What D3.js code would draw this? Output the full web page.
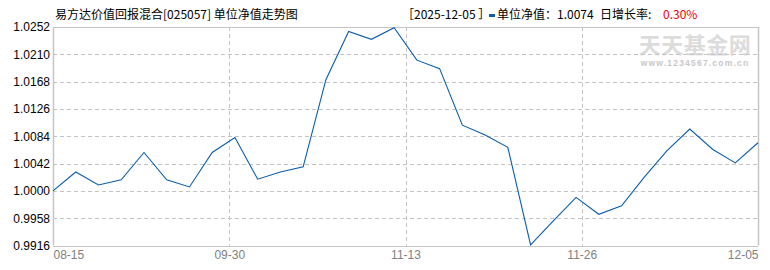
<!DOCTYPE html>
<html><head><meta charset="utf-8">
<script src="https://cdn.jsdelivr.net/npm/d3@7"></script>
<style>
html,body{margin:0;padding:0;background:#fff;}
svg{display:block;}
text{font-family:"Liberation Sans","Noto Sans CJK SC",sans-serif;}
.cjk{font-family:"Noto Sans CJK SC","Liberation Sans",sans-serif;}
</style></head><body>
<svg id="c" width="770" height="270"></svg>
<script>
const navValues = [1.0000,1.0029,1.0009,1.0017,1.0059,1.0017,1.0006,1.0059,1.0082,1.0018,
  1.0029,1.0037,1.0171,1.0245,1.0233,1.0251,1.0201,1.0188,1.0101,1.0086,
  1.0067,0.9917,0.9954,0.9990,0.9964,0.9977,1.0021,1.0062,1.0095,1.0064,
  1.0043,1.0074];
const xTickLabels = ["08-15","09-30","11-13","11-26","12-05"];
const yTickValues = [1.0252,1.0210,1.0168,1.0126,1.0084,1.0042,1.0000,0.9958,0.9916];
const titleText = "易方达价值回报混合[025057] 单位净值走势图";
const legendDate = "［2025-12-05 ］";
const legendNavLabel = "单位净值：";
const legendNav = "1.0074";
const legendRateLabel = "日增长率:";
const legendRate = "0.30%";

const svg = d3.select("#c");
const L = 53, R = 758, T = 27, B = 245.5;
const x = d3.scaleLinear().domain([0, navValues.length - 1]).range([L, R]);
const y = d3.scaleLinear().domain([0.9916, 1.0252]).range([B, T]);
const xt = d3.scaleLinear().domain([0, xTickLabels.length - 1]).range([L, R]);
const gridColor = "#c4c4c4";

// watermark
svg.append("text").attr("class","cjk").attr("x", 695).attr("y", 53)
  .attr("text-anchor","middle").attr("font-size", 22).attr("font-weight","bold")
  .attr("fill","#dcdcdc").attr("letter-spacing", 0.5).text("天天基金网");
svg.append("text").attr("x", 695).attr("y", 66).attr("text-anchor","middle")
  .attr("font-size", 8.5).attr("font-weight","bold").attr("fill","#c8c8c8")
  .attr("letter-spacing", 1.2).text("www.1234567.com.cn");

// horizontal grid
const yAxis = d3.axisLeft(y).tickValues(yTickValues).tickSize(0).tickPadding(3)
  .tickFormat(d3.format(".4f"));
const gy = svg.append("g").attr("transform", `translate(${L},0)`).call(yAxis);
gy.select(".domain").remove();
gy.selectAll("text").attr("fill","#000").attr("font-size", 12)
  .attr("font-family","Liberation Sans, sans-serif");
svg.append("g").selectAll("line").data(yTickValues).join("line")
  .attr("x1", L).attr("x2", R)
  .attr("y1", d => Math.round(y(d)) + 0.5).attr("y2", d => Math.round(y(d)) + 0.5)
  .attr("stroke", gridColor).attr("stroke-width", 1)
  .attr("stroke-dasharray", (d, i) => (i === 0 || i === yTickValues.length - 1) ? null : "4,3");

// vertical grid
svg.append("g").selectAll("line").data(xTickLabels).join("line")
  .attr("x1", (d, i) => Math.round(xt(i)) + 0.5).attr("x2", (d, i) => Math.round(xt(i)) + 0.5)
  .attr("y1", T).attr("y2", B)
  .attr("stroke", gridColor).attr("stroke-width", (d, i) => (i === 0 || i === xTickLabels.length - 1) ? 1.5 : 1)
  .attr("stroke-dasharray", (d, i) => (i === 0 || i === xTickLabels.length - 1) ? null : "4,3");

// x labels
const xAxis = d3.axisBottom(xt).tickValues(d3.range(xTickLabels.length)).tickSize(0).tickPadding(5)
  .tickFormat(i => xTickLabels[i]);
const gx = svg.append("g").attr("transform", `translate(0,${B})`).call(xAxis);
gx.select(".domain").remove();
gx.selectAll("text").attr("fill","#808080").attr("font-size", 12)
  .attr("font-family","Liberation Sans, sans-serif")
  .attr("text-anchor", (d, i) => i === 0 ? "start" : (i === xTickLabels.length - 1 ? "end" : "middle"));

// line
svg.append("path").datum(navValues)
  .attr("d", d3.line().x((d, i) => x(i)).y(d => y(d)))
  .attr("fill","none").attr("stroke","#0b5cad").attr("stroke-width", 1.1);

// title and legend
svg.append("text").attr("class","cjk").attr("x", 55).attr("y", 19).attr("font-size", 12)
  .attr("fill","#000").text(titleText);
svg.append("text").attr("class","cjk").attr("x", 402).attr("y", 19).attr("font-size", 12)
  .attr("fill","#000").text(legendDate);
svg.append("rect").attr("x", 489).attr("y", 14).attr("width", 6).attr("height", 3).attr("fill","#0b5cad");
svg.append("text").attr("class","cjk").attr("x", 497).attr("y", 19).attr("font-size", 12)
  .attr("fill","#000").text(legendNavLabel + legendNav);
svg.append("text").attr("class","cjk").attr("x", 600).attr("y", 19).attr("font-size", 12)
  .attr("fill","#000").text(legendRateLabel);
svg.append("text").attr("class","cjk").attr("x", 663).attr("y", 19).attr("font-size", 12)
  .attr("fill","#e00").text(legendRate);
</script>
</body></html>
